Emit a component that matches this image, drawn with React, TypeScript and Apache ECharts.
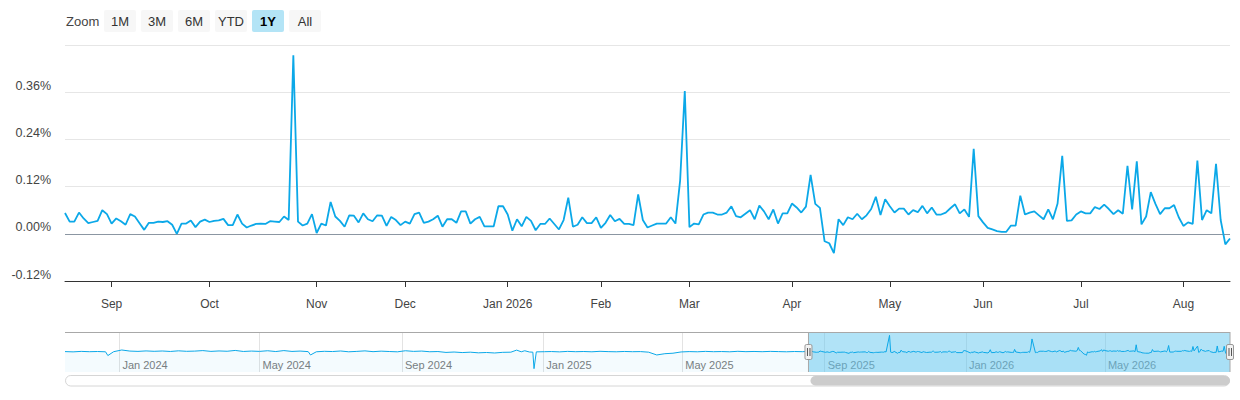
import React, { useEffect, useRef } from 'react';
import * as echarts from 'echarts';

// ---------- data ----------
const START_DATE = '2025-08-18';
const END_DATE = '2026-08-17';
const NAV_START = '2023-11-15';
const MARKET_HOLIDAYS = [
  '2025-09-01', '2025-11-27', '2025-12-25', '2026-01-01', '2026-01-19',
  '2026-02-16', '2026-04-03', '2026-05-25', '2026-06-19', '2026-07-03',
];

const AUG_2025 = [0.053, 0.031, 0.031, 0.054, 0.039, 0.027, 0.030, 0.033, 0.060, 0.050];
const SEP_2025 = [0.026, 0.039, 0.032, 0.023, 0.050, 0.044, 0.027, 0.010, 0.028, 0.028, 0.031, 0.030, 0.032, 0.023, 0.000, 0.026, 0.026, 0.034, 0.017, 0.031, 0.036];
const OCT_2025 = [0.030, 0.033, 0.034, 0.038, 0.022, 0.022, 0.049, 0.026, 0.016, 0.021, 0.025, 0.026, 0.025, 0.032, 0.031, 0.030, 0.044, 0.035, 0.454, 0.031, 0.021, 0.026, 0.050];
const NOV_2025 = [0.002, 0.026, 0.021, 0.081, 0.044, 0.033, 0.018, 0.047, 0.046, 0.029, 0.052, 0.037, 0.032, 0.047, 0.046, 0.020, 0.043, 0.035, 0.022];
const DEC_2025 = [0.031, 0.026, 0.050, 0.054, 0.028, 0.031, 0.037, 0.046, 0.018, 0.037, 0.037, 0.028, 0.057, 0.057, 0.026, 0.037, 0.043, 0.019, 0.019, 0.019, 0.070, 0.070];
const JAN_2026 = [0.049, 0.008, 0.037, 0.019, 0.043, 0.033, 0.009, 0.025, 0.025, 0.039, 0.025, 0.011, 0.035, 0.092, 0.018, 0.023, 0.042, 0.027, 0.027, 0.042];
const FEB_2026 = [0.015, 0.028, 0.048, 0.032, 0.038, 0.025, 0.025, 0.022, 0.100, 0.035, 0.016, 0.021, 0.026, 0.026, 0.026, 0.042, 0.026, 0.135, 0.363];
const MAR_2026 = [0.017, 0.026, 0.024, 0.049, 0.054, 0.054, 0.049, 0.049, 0.054, 0.070, 0.045, 0.042, 0.051, 0.060, 0.037, 0.072, 0.057, 0.037, 0.062, 0.026, 0.052, 0.052];
const APR_2026 = [0.077, 0.067, 0.054, 0.069, 0.150, 0.076, 0.066, -0.019, -0.024, -0.049, 0.037, 0.022, 0.042, 0.037, 0.051, 0.037, 0.047, 0.063, 0.094, 0.048, 0.088];
const MAY_2026 = [0.070, 0.054, 0.064, 0.064, 0.049, 0.060, 0.055, 0.071, 0.052, 0.067, 0.049, 0.049, 0.054, 0.065, 0.075, 0.052, 0.062, 0.043, 0.216, 0.045];
const JUN_2026 = [0.029, 0.015, 0.011, 0.007, 0.005, 0.005, 0.021, 0.021, 0.097, 0.049, 0.054, 0.057, 0.047, 0.037, 0.062, 0.037, 0.077, 0.198, 0.033, 0.034, 0.049];
const JUL_2026 = [0.057, 0.052, 0.052, 0.068, 0.063, 0.074, 0.063, 0.050, 0.060, 0.051, 0.173, 0.062, 0.184, 0.024, 0.044, 0.106, 0.076, 0.050, 0.065, 0.065, 0.073, 0.042];
const AUG_2026 = [0.020, 0.029, 0.025, 0.186, 0.035, 0.060, 0.052, 0.178, 0.035, -0.027, -0.012];

const DAILY_VALUES = [
  ...AUG_2025, ...SEP_2025, ...OCT_2025, ...NOV_2025, ...DEC_2025, ...JAN_2026,
  ...FEB_2026, ...MAR_2026, ...APR_2026, ...MAY_2026, ...JUN_2026, ...JUL_2026, ...AUG_2026,
];

// earlier history, only visible in the navigator
const NAV_HISTORY: [string, number][] = [
  ['2023-11-15', 0.045], ['2023-11-22', 0.038], ['2023-11-29', 0.050], ['2023-12-06', 0.042], ['2023-12-13', 0.047],
  ['2023-12-20', 0.040], ['2023-12-22', -0.055], ['2023-12-27', 0.042],
  ['2024-01-03', 0.085], ['2024-01-10', 0.058], ['2024-01-17', 0.050], ['2024-01-24', 0.062], ['2024-01-31', 0.052],
  ['2024-02-07', 0.060], ['2024-02-14', 0.048], ['2024-02-21', 0.064], ['2024-02-28', 0.052],
  ['2024-03-06', 0.057], ['2024-03-13', 0.070], ['2024-03-20', 0.050], ['2024-03-27', 0.061],
  ['2024-04-03', 0.053], ['2024-04-10', 0.074], ['2024-04-17', 0.048], ['2024-04-24', 0.058],
  ['2024-05-01', 0.050], ['2024-05-08', 0.066], ['2024-05-15', 0.046], ['2024-05-22', 0.070], ['2024-05-29', 0.049],
  ['2024-06-05', 0.058], ['2024-06-12', 0.044], ['2024-06-14', -0.040], ['2024-06-19', 0.040], ['2024-06-26', 0.052],
  ['2024-07-03', 0.046], ['2024-07-10', 0.060], ['2024-07-17', 0.040], ['2024-07-24', 0.050], ['2024-07-31', 0.063],
  ['2024-08-07', 0.043], ['2024-08-14', 0.056], ['2024-08-21', 0.047], ['2024-08-28', 0.039],
  ['2024-09-04', 0.066], ['2024-09-11', 0.050], ['2024-09-18', 0.058], ['2024-09-25', 0.041],
  ['2024-10-02', 0.046], ['2024-10-09', 0.024], ['2024-10-16', 0.034], ['2024-10-23', 0.020], ['2024-10-30', 0.030],
  ['2024-11-06', 0.014], ['2024-11-13', 0.022], ['2024-11-20', 0.010], ['2024-11-27', 0.026],
  ['2024-12-04', 0.030], ['2024-12-09', 0.082], ['2024-12-13', 0.040], ['2024-12-16', 0.066], ['2024-12-20', 0.035],
  ['2024-12-23', 0.030], ['2024-12-24', -0.385], ['2024-12-26', 0.038],
  ['2025-01-02', 0.042], ['2025-01-08', 0.046], ['2025-01-15', 0.038], ['2025-01-22', 0.050], ['2025-01-29', 0.042],
  ['2025-02-05', 0.047], ['2025-02-12', 0.040], ['2025-02-19', 0.052], ['2025-02-26', 0.044],
  ['2025-03-05', 0.040], ['2025-03-12', 0.048], ['2025-03-19', 0.042], ['2025-03-26', 0.045],
  ['2025-04-02', 0.030], ['2025-04-09', -0.040], ['2025-04-16', -0.008], ['2025-04-23', 0.004], ['2025-04-30', 0.036],
  ['2025-05-07', 0.045], ['2025-05-14', 0.040], ['2025-05-21', 0.050], ['2025-05-28', 0.042],
  ['2025-06-04', 0.046], ['2025-06-11', 0.040], ['2025-06-18', 0.052], ['2025-06-25', 0.043],
  ['2025-07-02', 0.048], ['2025-07-09', 0.042], ['2025-07-16', 0.050], ['2025-07-23', 0.045], ['2025-07-30', 0.040],
  ['2025-08-06', 0.047], ['2025-08-13', 0.042],
];

const Y_MIN = -0.12;
const Y_MAX = 0.48;
const Y_STEP = 0.12;
const ZOOM_BUTTONS = ['1M', '3M', '6M', 'YTD', '1Y', 'All'];
const SELECTED_BUTTON = '1Y';
const MONTHS = ['Jan', 'Feb', 'Mar', 'Apr', 'May', 'Jun', 'Jul', 'Aug', 'Sep', 'Oct', 'Nov', 'Dec'];
const NAV_LABEL_MONTHS = ['01', '05', '09'];

// ---------- style / layout ----------
const FONT = "'Liberation Sans', Arial, Helvetica, sans-serif";
const BLUE = '#0ba8e8';
const PLOT_LEFT = 65;
const PLOT_RIGHT = 10;
const PLOT_TOP = 45;
const PLOT_HEIGHT = 236;
const NAV_TOP = 332;
const NAV_HEIGHT = 40;
const SCROLL_TOP = 375.5;
const SCROLL_HEIGHT = 10.5;
const W = 1240;

// ---------- helpers ----------
const DAY = 86400000;
const parseDay = (s: string) => {
  const [y, m, d] = s.split('-').map(Number);
  return Date.UTC(y, m - 1, d);
};
const isoDay = (t: number) => new Date(t).toISOString().slice(0, 10);

function tradingDays(start: string, end: string, holidays: string[]) {
  const out: string[] = [];
  for (let t = parseDay(start); t <= parseDay(end); t += DAY) {
    const wd = new Date(t).getUTCDay();
    const s = isoDay(t);
    if (wd !== 0 && wd !== 6 && !holidays.includes(s)) out.push(s);
  }
  return out;
}
function calendarDays(start: string, end: string) {
  const out: string[] = [];
  for (let t = parseDay(start); t <= parseDay(end); t += DAY) out.push(isoDay(t));
  return out;
}

export default function App() {
  const ref = useRef<HTMLDivElement>(null);

  useEffect(() => {
    if (!ref.current) return;
    const chart = echarts.init(ref.current, undefined, { renderer: 'svg' });

    const dates = tradingDays(START_DATE, END_DATE, MARKET_HOLIDAYS);
    const navDays = calendarDays(NAV_START, END_DATE);
    const valueByDay = new Map<string, number>(NAV_HISTORY);
    dates.forEach((d, i) => valueByDay.set(d, DAILY_VALUES[i]));
    const navData = navDays.map((d) => (valueByDay.has(d) ? valueByDay.get(d)! : null));

    const isMonthStart = (i: number) => i > 0 && dates[i].slice(0, 7) !== dates[i - 1].slice(0, 7);
    const isNavLabel = (_i: number, v: string) =>
      v.slice(8) === '01' && NAV_LABEL_MONTHS.includes(v.slice(5, 7));

    const option: any = {
      animation: false,
      textStyle: { fontFamily: FONT },
      grid: [
        { left: PLOT_LEFT, right: PLOT_RIGHT, top: PLOT_TOP, height: PLOT_HEIGHT },
        { left: PLOT_LEFT, right: PLOT_RIGHT, top: NAV_TOP, height: NAV_HEIGHT },
      ],
      xAxis: [
        {
          type: 'category',
          gridIndex: 0,
          data: dates,
          boundaryGap: false,
          axisLine: { onZero: false, lineStyle: { color: '#333333', width: 1 } },
          axisTick: { interval: (i: number) => isMonthStart(i), length: 6, lineStyle: { color: '#333333' } },
          axisLabel: {
            interval: (i: number) => isMonthStart(i),
            formatter: (v: string) => {
              const m = Number(v.slice(5, 7)) - 1;
              return m === 0 ? `Jan ${v.slice(0, 4)}` : MONTHS[m];
            },
            color: '#444444',
            fontSize: 12,
            margin: 17,
          },
          splitLine: { show: false },
        },
        {
          type: 'category',
          gridIndex: 1,
          data: navDays,
          boundaryGap: false,
          axisLine: { show: false },
          axisTick: { show: false },
          axisLabel: {
            inside: true,
            interval: isNavLabel,
            formatter: (v: string) => `${MONTHS[Number(v.slice(5, 7)) - 1]} ${v.slice(0, 4)}`,
            color: '#7d7d7d',
            fontSize: 11,
            align: 'left',
            margin: 2,
            padding: [0, 0, 0, 3],
          },
          splitLine: { show: true, interval: isNavLabel, lineStyle: { color: '#e3e3e3', width: 1 } },
        },
      ],
      yAxis: [
        {
          type: 'value',
          gridIndex: 0,
          min: Y_MIN,
          max: Y_MAX,
          interval: Y_STEP,
          axisLine: { show: false },
          axisTick: { show: false },
          axisLabel: {
            formatter: (v: number) => `${(Math.abs(v) < 1e-9 ? 0 : v).toFixed(2)}%`,
            showMaxLabel: false,
            color: '#444444',
            fontSize: 12.5,
            margin: 14,
            verticalAlign: 'bottom',
          },
          splitLine: { lineStyle: { color: '#e6e6e6', width: 1 } },
        },
        {
          type: 'value',
          gridIndex: 1,
          show: false,
          min: (e: any) => e.min - 0.1 * (e.max - e.min),
          max: (e: any) => e.max + 0.1 * (e.max - e.min),
          splitLine: { show: false },
        },
      ],
      series: [
        {
          type: 'line',
          xAxisIndex: 0,
          yAxisIndex: 0,
          data: DAILY_VALUES,
          showSymbol: false,
          symbol: 'none',
          lineStyle: { color: BLUE, width: 1.8 },
          z: 3,
          markLine: {
            silent: true,
            symbol: 'none',
            label: { show: false },
            lineStyle: { color: '#8b96a2', width: 1, type: 'solid' },
            data: [{ yAxis: 0 }],
            z: 2,
          },
        },
        {
          type: 'line',
          xAxisIndex: 1,
          yAxisIndex: 1,
          data: navData,
          connectNulls: true,
          showSymbol: false,
          symbol: 'none',
          lineStyle: { color: BLUE, width: 1 },
          areaStyle: { color: 'rgba(11,168,232,0.06)', origin: 'start' },
          z: 3,
        },
      ],
    };
    chart.setOption(option);

    // navigator selection derived from the navigator axis
    const selStart = chart.convertToPixel({ xAxisIndex: 1 }, START_DATE) as number;
    const selEnd = chart.convertToPixel({ xAxisIndex: 1 }, END_DATE) as number;
    const navLeft = PLOT_LEFT;
    const navRight = W - PLOT_RIGHT;
    const navMid = NAV_TOP + NAV_HEIGHT / 2;

    const handle = (x: number) => ({
      type: 'group',
      x,
      y: navMid,
      z: 20,
      children: [
        { type: 'rect', z: 20, shape: { x: -3.5, y: -7.5, width: 7, height: 15, r: 1.5 }, style: { fill: '#f2f2f2', stroke: '#999999', lineWidth: 1 } },
        { type: 'line', z: 21, shape: { x1: -1, y1: -4, x2: -1, y2: 4 }, style: { stroke: '#555555', lineWidth: 1 } },
        { type: 'line', z: 21, shape: { x1: 1.5, y1: -4, x2: 1.5, y2: 4 }, style: { stroke: '#555555', lineWidth: 1 } },
      ],
    });

    const buttons = ZOOM_BUTTONS.map((label, i) => {
      const sel = label === SELECTED_BUTTON;
      return {
        type: 'group',
        x: 104 + i * 37,
        y: 10,
        children: [
          { type: 'rect', shape: { x: 0, y: 0, width: 32, height: 22, r: 2 }, style: { fill: sel ? '#b3e4f6' : '#f7f7f7' } },
          {
            type: 'text',
            x: 16,
            y: 11.5,
            style: {
              text: label,
              fill: sel ? '#000000' : '#333333',
              fontSize: 13,
              fontWeight: sel ? 'bold' : 'normal',
              fontFamily: FONT,
              align: 'center',
              verticalAlign: 'middle',
            },
          },
        ],
      };
    });

    chart.setOption({
      graphic: [
        {
          type: 'text',
          x: 66,
          y: 21.5,
          style: { text: 'Zoom', fill: '#444444', fontSize: 13, fontFamily: FONT, align: 'left', verticalAlign: 'middle' },
        },
        ...buttons,
        // navigator mask
        {
          type: 'rect',
          z: 1,
          shape: { x: selStart, y: NAV_TOP, width: selEnd - selStart, height: NAV_HEIGHT },
          style: { fill: 'rgba(100,200,240,0.5)' },
        },
        // outline
        { type: 'line', z: 15, shape: { x1: navLeft, y1: NAV_TOP + 0.5, x2: navRight, y2: NAV_TOP + 0.5 }, style: { stroke: '#a8a8a8', lineWidth: 1 } },
        { type: 'line', z: 15, shape: { x1: selStart, y1: NAV_TOP, x2: selStart, y2: NAV_TOP + NAV_HEIGHT }, style: { stroke: '#a8a8a8', lineWidth: 1 } },
        { type: 'line', z: 15, shape: { x1: selEnd, y1: NAV_TOP, x2: selEnd, y2: NAV_TOP + NAV_HEIGHT }, style: { stroke: '#a8a8a8', lineWidth: 1 } },
        handle(selStart),
        handle(selEnd),
        // scrollbar
        {
          type: 'rect',
          z: 5,
          shape: { x: navLeft + 0.5, y: SCROLL_TOP, width: navRight - navLeft - 1, height: SCROLL_HEIGHT, r: SCROLL_HEIGHT / 2 },
          style: { fill: '#ffffff', stroke: '#d6d6d6', lineWidth: 1 },
        },
        {
          type: 'rect',
          z: 6,
          shape: { x: selStart + 2, y: SCROLL_TOP + 0.5, width: selEnd - selStart - 2, height: SCROLL_HEIGHT - 1, r: (SCROLL_HEIGHT - 1) / 2 },
          style: { fill: '#cccccc' },
        },
      ],
    });

    return () => chart.dispose();
  }, []);

  return (
    <div
      ref={ref}
      style={{ position: 'absolute', left: 0, top: 0, width: 1240, height: 400, background: '#ffffff' }}
    />
  );
}
